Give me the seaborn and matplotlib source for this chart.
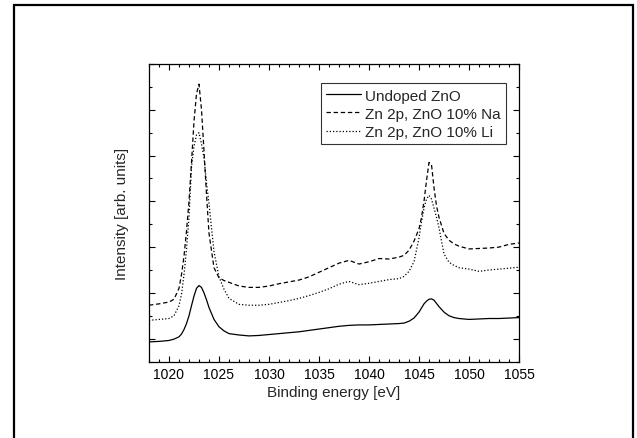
import matplotlib
matplotlib.use("Agg")
import matplotlib.pyplot as plt
import seaborn as sns
import pandas as pd
from matplotlib.ticker import MultipleLocator, NullFormatter
from matplotlib.patches import Rectangle

energy = [1018, 1019, 1020, 1020.5, 1021,
          1021.25, 1021.5, 1021.75, 1022, 1022.25, 1022.5, 1022.75, 1023,
          1023.25, 1023.5, 1023.75, 1024,
          1024.5, 1025, 1025.5, 1026,
          1027, 1028, 1029, 1030, 1031, 1032, 1033, 1034, 1035, 1036, 1037, 1038,
          1039, 1040, 1041, 1042, 1043,
          1043.5, 1044, 1044.5, 1045,
          1045.25, 1045.5, 1045.75, 1046, 1046.25, 1046.5, 1046.75, 1047,
          1047.5, 1048, 1048.5, 1049,
          1050, 1051, 1052, 1053, 1054, 1055]
undoped = [-0.07, -0.06, -0.04, -0.01, 0.04,
           0.10, 0.20, 0.33, 0.50, 0.72, 0.93, 1.10, 1.16,
           1.12, 1.00, 0.85, 0.68,
           0.42, 0.26, 0.17, 0.11,
           0.08, 0.06, 0.07, 0.09, 0.11, 0.13, 0.15, 0.18, 0.21, 0.24, 0.27, 0.29,
           0.30, 0.30, 0.31, 0.32, 0.33,
           0.34, 0.38, 0.45, 0.58,
           0.67, 0.76, 0.82, 0.86, 0.87, 0.84, 0.77, 0.70,
           0.58, 0.50, 0.46, 0.44,
           0.42, 0.43, 0.44, 0.44, 0.45, 0.46]
na_doped = [0.73, 0.76, 0.80, 0.86, 1.10,
            1.40, 1.80, 2.35, 3.00, 3.85, 4.75, 5.35, 5.56,
            5.00, 4.10, 3.15, 2.30,
            1.55, 1.33, 1.27, 1.23,
            1.15, 1.12, 1.12, 1.15, 1.20, 1.24, 1.28, 1.35, 1.45, 1.55, 1.65, 1.71,
            1.63, 1.68, 1.75, 1.74, 1.78,
            1.82, 1.93, 2.13, 2.40,
            2.65, 3.00, 3.45, 3.85, 3.80, 3.30, 2.90, 2.65,
            2.30, 2.15, 2.07, 2.02,
            1.96, 1.97, 1.98, 2.00, 2.06, 2.09]
li_doped = [0.40, 0.42, 0.44, 0.50, 0.72,
            0.97, 1.40, 1.95, 2.65, 3.75, 4.20, 4.45, 4.50,
            4.25, 3.95, 3.40, 2.95,
            1.90, 1.35, 1.08, 0.88,
            0.75, 0.73, 0.73, 0.75, 0.79, 0.83, 0.88, 0.94, 1.01, 1.09, 1.19, 1.25,
            1.18, 1.21, 1.25, 1.29, 1.31,
            1.36, 1.47, 1.68, 2.20,
            2.55, 2.85, 3.05, 3.13, 3.05, 2.85, 2.65, 2.42,
            1.85, 1.67, 1.60, 1.55,
            1.52, 1.47, 1.50, 1.52, 1.54, 1.56]
labels = ["Undoped ZnO", "Zn 2p, ZnO 10% Na", "Zn 2p, ZnO 10% Li"]

frames = []
for lab, vals in zip(labels, [undoped, na_doped, li_doped]):
    frames.append(pd.DataFrame({"energy": energy, "intensity": vals, "sample": lab}))
df = pd.concat(frames, ignore_index=True)

sns.set_style("ticks")
plt.rcParams["font.family"] = ["Liberation Sans", "DejaVu Sans"]

fig = plt.figure(figsize=(6.37, 4.39), dpi=100)
ax = fig.add_axes([149/637, 1 - 363/439, 370/637, 298/439])

dashes = {labels[0]: "", labels[1]: (3.5, 2.2), labels[2]: (1, 1.6)}
sns.lineplot(data=df, x="energy", y="intensity", hue="sample", style="sample",
             palette={l: "black" for l in labels}, dashes=dashes, linewidth=0.9,
             ax=ax, legend=True)

ax.set_xlim(1018, 1055)
ax.set_ylim(-0.51, 6.0)
ax.xaxis.set_major_locator(MultipleLocator(5))
ax.xaxis.set_minor_locator(MultipleLocator(1))
ax.yaxis.set_major_locator(MultipleLocator(1))
ax.yaxis.set_minor_locator(MultipleLocator(0.5))
ax.yaxis.set_major_formatter(NullFormatter())
ax.tick_params(which="both", direction="in", top=True, right=True, colors="black",
               labelsize=10, width=0.8)
ax.tick_params(which="major", length=4)
ax.tick_params(which="minor", length=2)
for s in ax.spines.values():
    s.set_visible(True)
    s.set_linewidth(0.9)
    s.set_color("black")

ax.set_xlabel("Binding energy [eV]", fontsize=11, labelpad=3)
ax.set_ylabel("Intensity [arb. units]", fontsize=11, labelpad=11)

leg = ax.legend(loc="upper right", bbox_to_anchor=(0.965, 0.935), fontsize=11,
                frameon=True, fancybox=False, handlelength=2.3, handletextpad=0.25,
                borderpad=0.35, labelspacing=0.27, borderaxespad=0)
leg.get_frame().set_edgecolor("black")
leg.get_frame().set_linewidth(0.8)
for line in leg.get_lines():
    line.set_linewidth(0.9)

fig.patches.append(Rectangle((14/637, -0.05), (633 - 14)/637, (1 - 6/439) + 0.05,
                             transform=fig.transFigure, fill=False, edgecolor="black",
                             linewidth=1.6, clip_on=False))

fig.savefig("out.png", dpi=100)
